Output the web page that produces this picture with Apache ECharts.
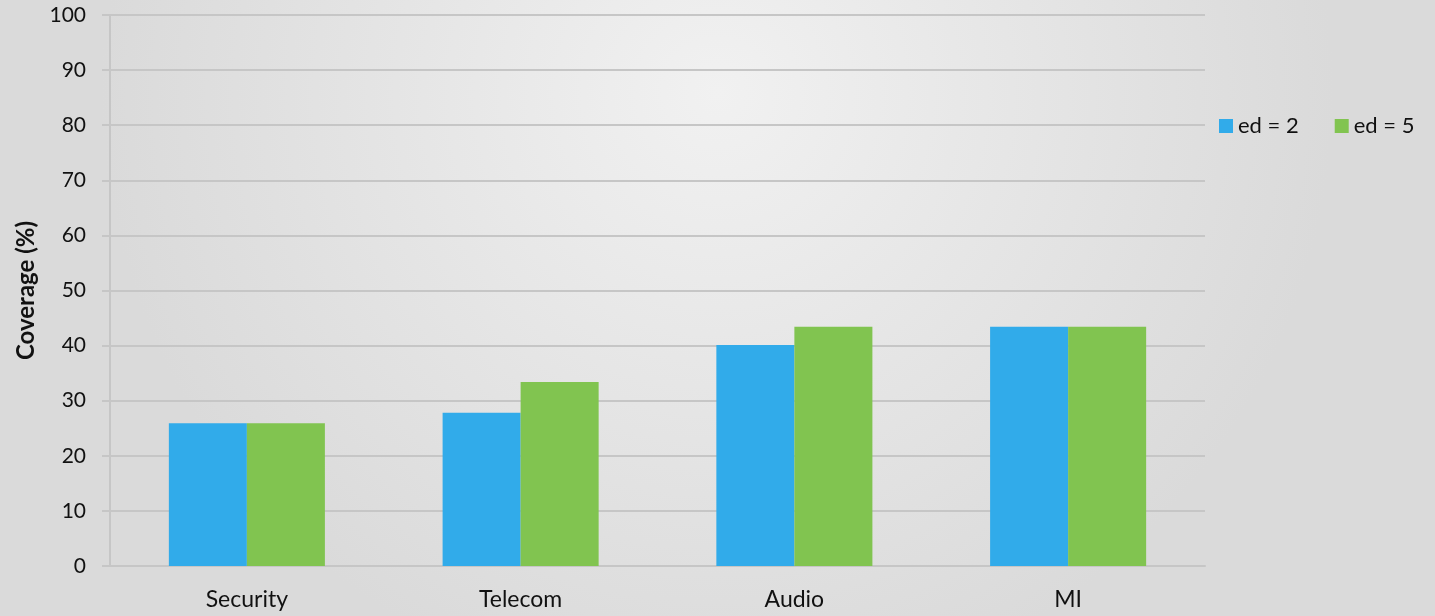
<!DOCTYPE html>
<html>
<head>
<meta charset="utf-8">
<script src="https://cdn.jsdelivr.net/npm/echarts@6/dist/echarts.min.js"></script>
<style>
  html, body { margin: 0; padding: 0; }
  #chart { width: 1435px; height: 616px; }
</style>
</head>
<body>
<div id="chart"></div>
<script>
// Coverage per application domain for two edit distances
const categories = ['Security', 'Telecom', 'Audio', 'MI'];
const seriesNames = ['ed = 2', 'ed = 5'];
const ed2 = [25.9, 27.8, 40.1, 43.4];
const ed5 = [25.9, 33.4, 43.4, 43.4];
const colors = ['#31ABEA', '#81C450'];

const font = 'Lato, "Open Sans", sans-serif';
const chart = echarts.init(document.getElementById('chart'), null, { renderer: 'canvas' });

chart.setOption({
  animation: false,
  backgroundColor: {
    type: 'radial', x: 0.5, y: 0.15, r: 1.0,
    colorStops: [
      { offset: 0, color: '#f1f1f1' },
      { offset: 1, color: '#dadada' }
    ]
  },
  grid: { left: 110, right: 230, top: 15, bottom: 50, containLabel: false },
  legend: {
    data: seriesNames,
    left: 1214,
    top: 110,
    itemWidth: 14,
    itemHeight: 14,
    itemGap: 36,
    icon: 'rect',
    textStyle: { fontFamily: font, fontSize: 22, color: '#111' }
  },
  xAxis: {
    type: 'category',
    data: categories,
    axisLine: { show: true, lineStyle: { color: '#c6c6c6', width: 2 } },
    axisTick: { show: false },
    axisLabel: { fontFamily: font, fontSize: 23, color: '#111', margin: 22 }
  },
  yAxis: {
    type: 'value',
    min: 0, max: 100, interval: 10,
    name: 'Coverage (%)',
    nameLocation: 'middle',
    nameGap: 72,
    nameTextStyle: { fontFamily: font, fontSize: 24, fontWeight: 'bold', color: '#111' },
    axisLine: { show: true, lineStyle: { color: '#c6c6c6', width: 2 } },
    axisTick: { show: true, length: 8, lineStyle: { color: '#c6c6c6', width: 2 } },
    axisLabel: { fontFamily: font, fontSize: 21, color: '#111', margin: 24 },
    splitLine: { show: true, lineStyle: { color: '#c6c6c6', width: 2 } }
  },
  series: [
    {
      name: seriesNames[0], type: 'bar', data: ed2,
      itemStyle: { color: colors[0] },
      barCategoryGap: '43%', barGap: '0%'
    },
    {
      name: seriesNames[1], type: 'bar', data: ed5,
      itemStyle: { color: colors[1] },
      barCategoryGap: '43%', barGap: '0%'
    }
  ]
});
</script>
</body>
</html>
